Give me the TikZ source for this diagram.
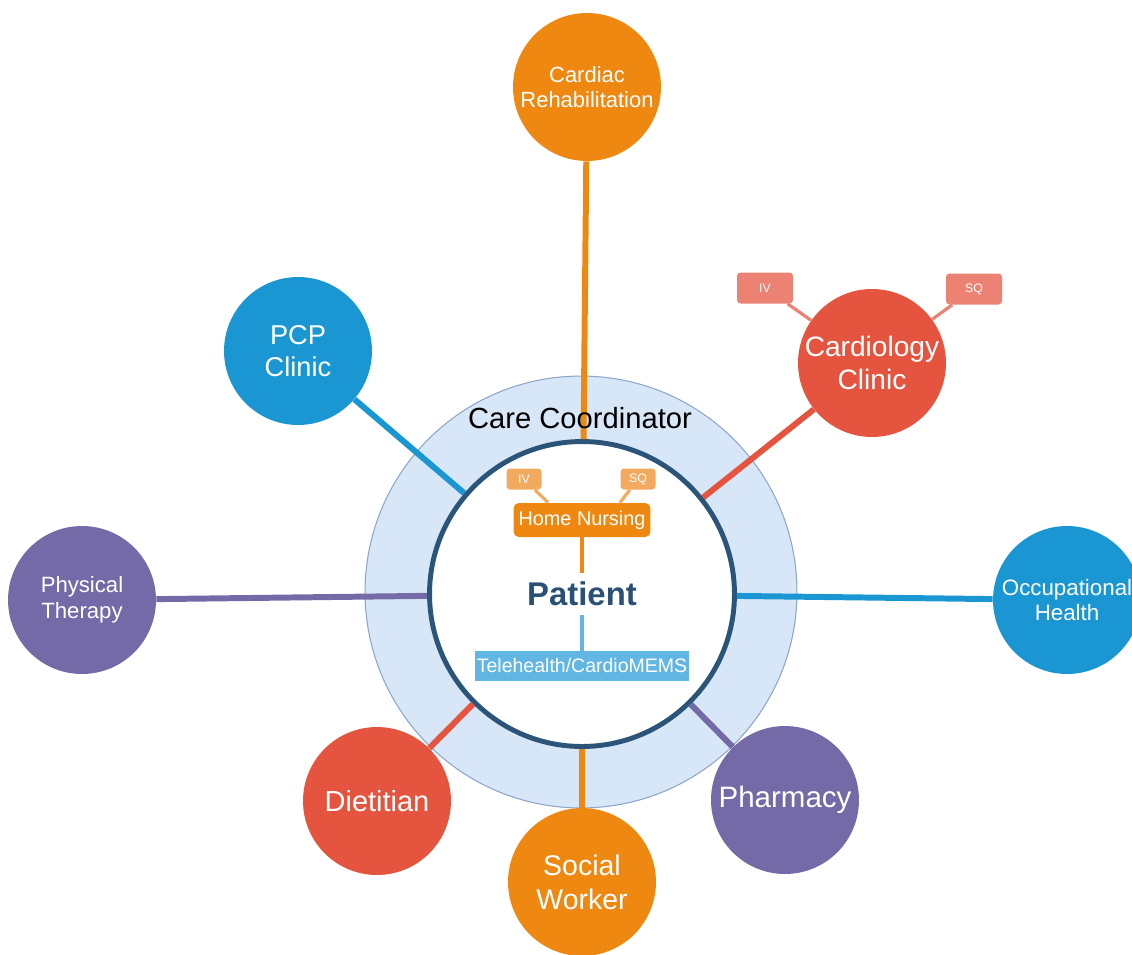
\documentclass[tikz,border=0pt]{standalone}
\usepackage{fontspec}
\setmainfont{Liberation Sans}
\definecolor{corange}{RGB}{238,136,17}
\definecolor{cred}{RGB}{228,84,63}
\definecolor{cblue}{RGB}{26,151,211}
\definecolor{cpurple}{RGB}{117,106,168}
\definecolor{lorange}{RGB}{242,170,95}
\definecolor{lred}{RGB}{236,130,116}
\definecolor{lblue}{RGB}{98,182,228}
\definecolor{ringfill}{RGB}{216,231,248}
\definecolor{ringline}{RGB}{140,165,200}
\definecolor{darkblue}{RGB}{42,84,120}
\definecolor{pattext}{RGB}{43,80,117}
\tikzset{
  sat/.style={circle, inner sep=0pt, minimum size=2.96cm, text=white, align=center},
  link/.style={line width=3.4pt},
  thinlink/.style={line width=1.8pt},
  tagbox/.style={rounded corners=2pt, inner sep=0pt, text=white, font=\fontsize{7}{8}\selectfont},
  smalltag/.style={tagbox, fill=lorange, minimum width=0.7cm, minimum height=0.42cm},
  cardtag/.style={tagbox, fill=lred, minimum width=1.12cm, minimum height=0.62cm},
}
\begin{document}
\begin{tikzpicture}[x=0.02cm, y=-0.02cm]
\useasboundingbox (0,0) rectangle (1132,954);
\clip (0,0) rectangle (1132,954);
% ring and inner circle
\node[circle, fill=ringfill, draw=ringline, line width=0.6pt, minimum size=8.64cm, inner sep=0pt] (ring) at (581,592) {};
\node[circle, fill=white, draw=darkblue, line width=2.8pt, minimum size=6.1cm, inner sep=0pt] (inner) at (582,594) {};
% satellites
\node[sat, fill=corange, font=\fontsize{12.5}{14}\selectfont] (crehab) at (587,87) {Cardiac\\Rehabilitation};
\node[sat, fill=cred, font=\fontsize{16}{18.6}\selectfont] (card) at (872,363) {Cardiology\\Clinic};
\node[sat, fill=cblue, font=\fontsize{15.5}{18}\selectfont] (pcp) at (298,351) {PCP\\Clinic};
\node[sat, fill=cpurple, font=\fontsize{12.6}{14.5}\selectfont] (pt) at (82,600) {Physical\\Therapy};
\node[sat, fill=cblue, font=\fontsize{12.7}{14.5}\selectfont] (occ) at (1067,600) {Occupational\\Health};
\node[sat, fill=cred, font=\fontsize{16.5}{19}\selectfont] (diet) at (377,801) {Dietitian};
\node[sat, fill=corange, font=\fontsize{16.2}{19.5}\selectfont] (social) at (582,882) {Social\\Worker};
\node[sat, fill=cpurple, font=\fontsize{16.8}{19}\selectfont] (pharm) at (785,800) {Pharmacy};
% cardiology tags
\node[cardtag] (cIV) at (765,288) {IV};
\node[cardtag] (cSQ) at (974,289) {SQ};
% inner content
\node[smalltag] (iIV) at (524,479) {IV};
\node[smalltag] (iSQ) at (638,479) {SQ};
\node[fill=corange, rounded corners=3pt, inner sep=0pt, minimum width=2.74cm, minimum height=0.68cm, text=white, font=\fontsize{11.3}{13}\selectfont] (hn) at (582,520) {Home Nursing};
\node[text=pattext, font=\fontsize{18.7}{20}\selectfont\bfseries, inner sep=5pt] (pat) at (582,594) {Patient};
\node[fill=lblue, inner sep=0pt, minimum width=4.28cm, minimum height=0.6cm, text=white, font=\fontsize{11.1}{13}\selectfont] (tele) at (582,666) {Telehealth/CardioMEMS};
% connectors
\draw[link, corange] (crehab) -- (inner);
\draw[link, cred] (card) -- (inner);
\draw[link, cblue] (pcp) -- (inner);
\draw[link, cpurple] (pt) -- (inner);
\draw[link, cblue] (occ) -- (inner);
\draw[link, cred] (diet) -- (inner);
\draw[link, corange] (social) -- (inner);
\draw[link, cpurple] (pharm) -- (inner);
\draw[thinlink, lred] (cIV) -- (card);
\draw[thinlink, lred] (cSQ) -- (card);
\draw[thinlink, lorange] (iIV) -- ([xshift=-0.68cm]hn.north);
\draw[thinlink, lorange] (iSQ) -- ([xshift=0.76cm]hn.north);
\draw[thinlink, corange] (hn) -- (pat);
\draw[thinlink, lblue] (pat) -- (tele);
% ring label
\node[font=\fontsize{16.6}{18}\selectfont, text=black] (cc) at (580,418) {Care Coordinator};
\end{tikzpicture}
\end{document}
